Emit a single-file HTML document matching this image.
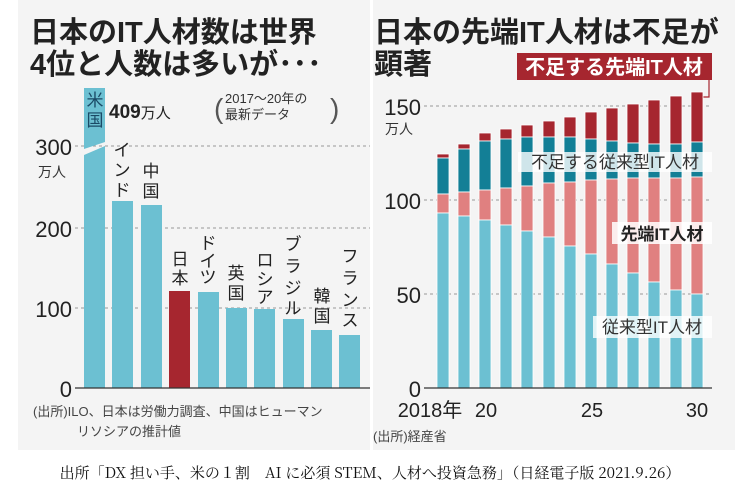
<!DOCTYPE html>
<html><head><meta charset="utf-8"><style>
body{margin:0;background:#fff;}
svg{display:block;font-family:"Liberation Sans","Noto Sans CJK JP",sans-serif;}
</style></head><body>
<svg width="741" height="496" viewBox="0 0 741 496" xmlns="http://www.w3.org/2000/svg">
<rect x="18" y="0" width="352" height="450" fill="#f4f4f4"/>
<rect x="373" y="0" width="362" height="450" fill="#f4f4f4"/>
<text x="30" y="42" font-size="29" font-weight="bold" fill="#222">日本のIT人材数は世界</text>
<text x="30" y="74" font-size="29" font-weight="bold" fill="#222">4位と人数は多いが･･･</text>
<g stroke="#999" stroke-dasharray="3,3" stroke-width="1">
<line x1="75" y1="146" x2="370" y2="146"/><line x1="75" y1="228" x2="370" y2="228"/><line x1="75" y1="308" x2="370" y2="308"/>
</g>
<g font-size="22" fill="#222" text-anchor="end">
<text x="72" y="155">300</text><text x="72" y="237">200</text><text x="72" y="317">100</text><text x="72" y="397">0</text>
</g>
<text x="52" y="177" font-size="14" fill="#333" text-anchor="middle">万人</text>
<g fill="#6cc0d2">
<path d="M84,88 H105 V142 L84,149 Z"/>
<path d="M84,155 L105,146 V388 H84 Z"/>
<rect x="112" y="201" width="21" height="187"/>
<rect x="141" y="205" width="21" height="183"/>
<rect x="198" y="292" width="21" height="96"/>
<rect x="226" y="308" width="21" height="80"/>
<rect x="254" y="309" width="21" height="79"/>
<rect x="283" y="319" width="21" height="69"/>
<rect x="311" y="330" width="21" height="58"/>
<rect x="339" y="335" width="21" height="53"/>
</g>
<rect x="169" y="291" width="21" height="97" fill="#a6262f"/>
<line x1="75" y1="388" x2="370" y2="388" stroke="#333" stroke-width="1.2"/>
<g font-size="17" fill="#222" text-anchor="middle">
<text x="95" y="106" fill="#1a4a66">米</text><text x="95" y="126" fill="#1a4a66">国</text>
<text x="122" y="156">イ</text><text x="122" y="176">ン</text><text x="122" y="196">ド</text>
<text x="151" y="177">中</text><text x="151" y="197">国</text>
<text x="180" y="265">日</text><text x="180" y="284">本</text>
<text x="208" y="249">ド</text><text x="208" y="267">イ</text><text x="208" y="283">ツ</text>
<text x="236" y="279">英</text><text x="236" y="299">国</text>
<text x="265" y="266">ロ</text><text x="265" y="285">シ</text><text x="265" y="303">ア</text>
<text x="293" y="250">ブ</text><text x="293" y="272">ラ</text><text x="293" y="294">ジ</text><text x="293" y="314">ル</text>
<text x="322" y="302">韓</text><text x="322" y="322">国</text>
<text x="350" y="262">フ</text><text x="350" y="284">ラ</text><text x="350" y="306">ン</text><text x="350" y="326">ス</text>
</g>
<text x="109" y="118" font-size="19" font-weight="bold" fill="#222">409<tspan font-size="15" font-weight="normal">万人</tspan></text>
<text x="225" y="103" font-size="13" fill="#333">2017～20年の</text>
<text x="225" y="119" font-size="13" fill="#333">最新データ</text>
<text x="214" y="118" font-size="28" fill="#555">(</text>
<text x="330" y="118" font-size="28" fill="#555">)</text>
<text x="33" y="416" font-size="13" fill="#444">(出所)ILO、日本は労働力調査、中国はヒューマン</text>
<text x="77" y="436" font-size="13" fill="#444">リソシアの推計値</text>
<text x="374" y="42" font-size="29" font-weight="bold" fill="#222">日本の先端IT人材は不足が</text>
<text x="374" y="74" font-size="29" font-weight="bold" fill="#222">顕著</text>
<rect x="517" y="53" width="195" height="27" fill="#a6262f"/>
<text x="614" y="74" font-size="20" font-weight="bold" fill="#fff" text-anchor="middle">不足する先端IT人材</text>
<polyline points="709,80 709,97 703,97" fill="none" stroke="#a6262f" stroke-width="1.2"/>
<g stroke="#999" stroke-dasharray="3,3" stroke-width="1">
<line x1="424" y1="106" x2="712" y2="106"/><line x1="424" y1="200" x2="712" y2="200"/><line x1="424" y1="294" x2="712" y2="294"/>
</g>
<g font-size="22" fill="#222" text-anchor="end">
<text x="421" y="115">150</text><text x="421" y="209">100</text><text x="421" y="303">50</text><text x="421" y="397">0</text>
</g>
<text x="399" y="134" font-size="14" fill="#333" text-anchor="middle">万人</text>
<g stroke="#fff" stroke-width="0.8">
<rect x="437" y="154" width="12" height="4" fill="#a6262f"/><rect x="437" y="158" width="12" height="36" fill="#137f96"/><rect x="437" y="194" width="12" height="19" fill="#e08080"/><rect x="437" y="213" width="12" height="175" fill="#6cc0d2"/>
<rect x="458" y="144" width="12" height="5" fill="#a6262f"/><rect x="458" y="149" width="12" height="43" fill="#137f96"/><rect x="458" y="192" width="12" height="24" fill="#e08080"/><rect x="458" y="216" width="12" height="172" fill="#6cc0d2"/>
<rect x="479" y="133" width="12" height="8" fill="#a6262f"/><rect x="479" y="141" width="12" height="49" fill="#137f96"/><rect x="479" y="190" width="12" height="30" fill="#e08080"/><rect x="479" y="220" width="12" height="168" fill="#6cc0d2"/>
<rect x="500" y="129" width="12" height="10" fill="#a6262f"/><rect x="500" y="139" width="12" height="49" fill="#137f96"/><rect x="500" y="188" width="12" height="37" fill="#e08080"/><rect x="500" y="225" width="12" height="163" fill="#6cc0d2"/>
<rect x="521" y="125" width="12" height="12" fill="#a6262f"/><rect x="521" y="137" width="12" height="49" fill="#137f96"/><rect x="521" y="186" width="12" height="45" fill="#e08080"/><rect x="521" y="231" width="12" height="157" fill="#6cc0d2"/>
<rect x="543" y="121" width="12" height="16" fill="#a6262f"/><rect x="543" y="137" width="12" height="46" fill="#137f96"/><rect x="543" y="183" width="12" height="54" fill="#e08080"/><rect x="543" y="237" width="12" height="151" fill="#6cc0d2"/>
<rect x="564" y="117" width="12" height="20" fill="#a6262f"/><rect x="564" y="137" width="12" height="45" fill="#137f96"/><rect x="564" y="182" width="12" height="64" fill="#e08080"/><rect x="564" y="246" width="12" height="142" fill="#6cc0d2"/>
<rect x="585" y="112" width="12" height="27" fill="#a6262f"/><rect x="585" y="139" width="12" height="41" fill="#137f96"/><rect x="585" y="180" width="12" height="74" fill="#e08080"/><rect x="585" y="254" width="12" height="134" fill="#6cc0d2"/>
<rect x="606" y="108" width="12" height="33" fill="#a6262f"/><rect x="606" y="141" width="12" height="38" fill="#137f96"/><rect x="606" y="179" width="12" height="85" fill="#e08080"/><rect x="606" y="264" width="12" height="124" fill="#6cc0d2"/>
<rect x="627" y="104" width="12" height="39" fill="#a6262f"/><rect x="627" y="143" width="12" height="35" fill="#137f96"/><rect x="627" y="178" width="12" height="95" fill="#e08080"/><rect x="627" y="273" width="12" height="115" fill="#6cc0d2"/>
<rect x="648" y="100" width="12" height="44" fill="#a6262f"/><rect x="648" y="144" width="12" height="34" fill="#137f96"/><rect x="648" y="178" width="12" height="104" fill="#e08080"/><rect x="648" y="282" width="12" height="106" fill="#6cc0d2"/>
<rect x="670" y="96" width="12" height="48" fill="#a6262f"/><rect x="670" y="144" width="12" height="34" fill="#137f96"/><rect x="670" y="178" width="12" height="112" fill="#e08080"/><rect x="670" y="290" width="12" height="98" fill="#6cc0d2"/>
<rect x="691" y="92" width="12" height="50" fill="#a6262f"/><rect x="691" y="142" width="12" height="35" fill="#137f96"/><rect x="691" y="177" width="12" height="117" fill="#e08080"/><rect x="691" y="294" width="12" height="94" fill="#6cc0d2"/>
</g>
<line x1="424" y1="388" x2="712" y2="388" stroke="#333" stroke-width="1.2"/>
<rect x="518" y="152" width="194" height="20" fill="#fff" opacity="0.8"/>
<text x="615" y="168" font-size="17" fill="#333" text-anchor="middle">不足する従来型IT人材</text>
<rect x="612" y="222" width="100" height="22" fill="#fff" opacity="0.85"/>
<text x="662" y="240" font-size="17" font-weight="bold" fill="#222" text-anchor="middle">先端IT人材</text>
<rect x="593" y="316" width="119" height="22" fill="#fff" opacity="0.8"/>
<text x="652" y="333" font-size="17" fill="#333" text-anchor="middle">従来型IT人材</text>
<g font-size="20" fill="#222" text-anchor="middle">
<text x="430" y="417">2018年</text><text x="486" y="417">20</text><text x="592" y="417">25</text><text x="697" y="417">30</text>
</g>
<text x="373" y="441" font-size="13" fill="#444">(出所)経産省</text>
<text x="370" y="478" font-size="15" fill="#111" text-anchor="middle" font-family="'Noto Serif CJK SC','Liberation Serif',serif">出所「DX 担い手、米の１割　AI に必須 STEM、人材へ投資急務」（日経電子版 2021.9.26）</text>
</svg>
</body></html>
